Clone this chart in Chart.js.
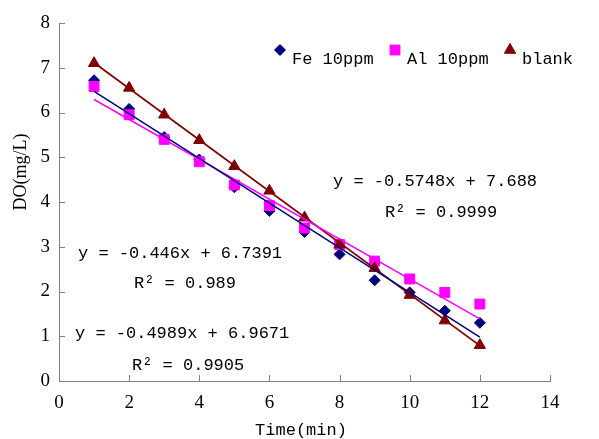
<!DOCTYPE html>
<html>
<head>
<meta charset="utf-8">
<script src="https://cdn.jsdelivr.net/npm/chart.js@4/dist/chart.umd.min.js"></script>
<style>body{margin:0;background:#fff}</style>
</head>
<body>
<canvas id="chart" width="599" height="439"></canvas>
<script>
// sampling times (min)
const times = [1, 2, 3, 4, 5, 6, 7, 8, 9, 10, 11, 12];
// DO readings (mg/L)
const feDO    = [6.72, 6.08, 5.45, 4.95, 4.33, 3.80, 3.33, 2.83, 2.25, 1.98, 1.57, 1.30];
const alDO    = [6.58, 5.95, 5.40, 4.90, 4.38, 3.92, 3.42, 3.05, 2.68, 2.28, 1.98, 1.72];
const blankDO = [7.10, 6.55, 5.95, 5.38, 4.80, 4.25, 3.65, 3.05, 2.52, 1.92, 1.35, 0.80];
// linear trend lines, end values at t = 1 and t = 12
const trendX     = [1, 12];
const feTrend    = [6.47, 0.98];
const alTrend    = [6.29, 1.39];
const blankTrend = [7.11, 0.79];
// labels
const seriesNames = ['Fe 10ppm', 'Al 10ppm', 'blank'];
const eqBlank = ['y = -0.5748x + 7.688', 'R² = 0.9999'];
const eqAl    = ['y = -0.446x + 6.7391', 'R² = 0.989'];
const eqFe    = ['y = -0.4989x + 6.9671', 'R² = 0.9905'];

const NAVY = '#000080', MAGENTA = '#FF00FF', DARKRED = '#800000';
const mono = '"Liberation Mono", monospace';
const serif = '"Liberation Serif", serif';

function pts(xs, ys) {
  return xs.map((x, i) => ({ x: x, y: ys[i] }));
}

const markers = [
  { color: NAVY, style: 'rectRot', radius: 5.5 },
  { color: MAGENTA, style: 'rect', radius: 7 },
  { color: DARKRED, style: 'triangle', radius: 6.5 }
];

// draws inward ticks, titles, equations and legend
const extras = {
  id: 'extras',
  afterDraw(chart) {
    const ctx = chart.ctx;
    const xs = chart.scales.x, ys = chart.scales.y;
    const area = chart.chartArea;
    ctx.save();
    ctx.strokeStyle = '#808080';
    ctx.lineWidth = 1;
    ctx.beginPath();
    xs.ticks.forEach(t => {
      const px = Math.round(xs.getPixelForValue(t.value)) + 0.5;
      ctx.moveTo(px, area.bottom);
      ctx.lineTo(px, area.bottom - 6);
    });
    ys.ticks.forEach(t => {
      const py = Math.round(ys.getPixelForValue(t.value)) + 0.5;
      ctx.moveTo(area.left, py);
      ctx.lineTo(area.left + 6, py);
    });
    ctx.stroke();

    ctx.fillStyle = '#000';
    ctx.textBaseline = 'middle';
    ctx.font = '17px ' + mono;
    ctx.textAlign = 'center';
    ctx.fillText('Time(min)', 301, 430);

    ctx.save();
    ctx.translate(21, 172);
    ctx.rotate(-Math.PI / 2);
    ctx.font = '18px ' + serif;
    ctx.fillText('DO(mg/L)', 0, 0);
    ctx.restore();

    ctx.textAlign = 'left';
    ctx.font = '17px ' + mono;
    ctx.fillText(eqBlank[0], 333, 181);
    ctx.fillText(eqBlank[1], 385, 212);
    ctx.fillText(eqAl[0], 78, 253);
    ctx.fillText(eqAl[1], 134, 283);
    ctx.fillText(eqFe[0], 75, 333);
    ctx.fillText(eqFe[1], 132, 365);

    // legend
    const lx = [280, 395, 510];
    seriesNames.forEach((name, i) => {
      const m = markers[i];
      ctx.fillStyle = m.color;
      ctx.strokeStyle = m.color;
      Chart.helpers.drawPoint(ctx, { pointStyle: m.style, radius: m.radius, borderWidth: 1 }, lx[i], 50);
      ctx.fillStyle = '#000';
      ctx.fillText(name, lx[i] + 12, 59);
    });
    ctx.restore();
  }
};

function scatterSet(label, data, m, order) {
  return {
    type: 'scatter', label: label, data: data, order: order,
    pointStyle: m.style, pointRadius: m.radius, pointHoverRadius: m.radius,
    backgroundColor: m.color, borderColor: m.color, borderWidth: 1
  };
}
function trendSet(data, color, width) {
  return {
    type: 'line', data: data, order: 0,
    borderColor: color, borderWidth: width, pointRadius: 0, fill: false
  };
}

new Chart(document.getElementById('chart').getContext('2d'), {
  type: 'scatter',
  data: {
    datasets: [
      trendSet(pts(trendX, feTrend), NAVY, 1.5),
      trendSet(pts(trendX, alTrend), MAGENTA, 1.5),
      trendSet(pts(trendX, blankTrend), DARKRED, 1.8),
      scatterSet(seriesNames[2], pts(times, blankDO), markers[2], 1),
      scatterSet(seriesNames[1], pts(times, alDO), markers[1], 2),
      scatterSet(seriesNames[0], pts(times, feDO), markers[0], 3)
    ]
  },
  options: {
    responsive: false,
    animation: false,
    layout: { padding: { left: 0, right: 49, top: 23, bottom: 0 } },
    plugins: { legend: { display: false }, tooltip: { enabled: false } },
    scales: {
      x: {
        type: 'linear', min: 0, max: 14,
        ticks: { stepSize: 2, padding: 11, color: '#000', font: { family: serif, size: 19 } },
        grid: { display: false, drawTicks: false },
        border: { display: true, color: '#808080', width: 1 },
        afterFit(s) { s.height = 58; }
      },
      y: {
        type: 'linear', min: 0, max: 8,
        ticks: { stepSize: 1, padding: 9, color: '#000', font: { family: serif, size: 19 } },
        grid: { display: false, drawTicks: false },
        border: { display: true, color: '#808080', width: 1 },
        afterFit(s) { s.width = 59; }
      }
    }
  },
  plugins: [extras]
});
</script>
</body>
</html>
